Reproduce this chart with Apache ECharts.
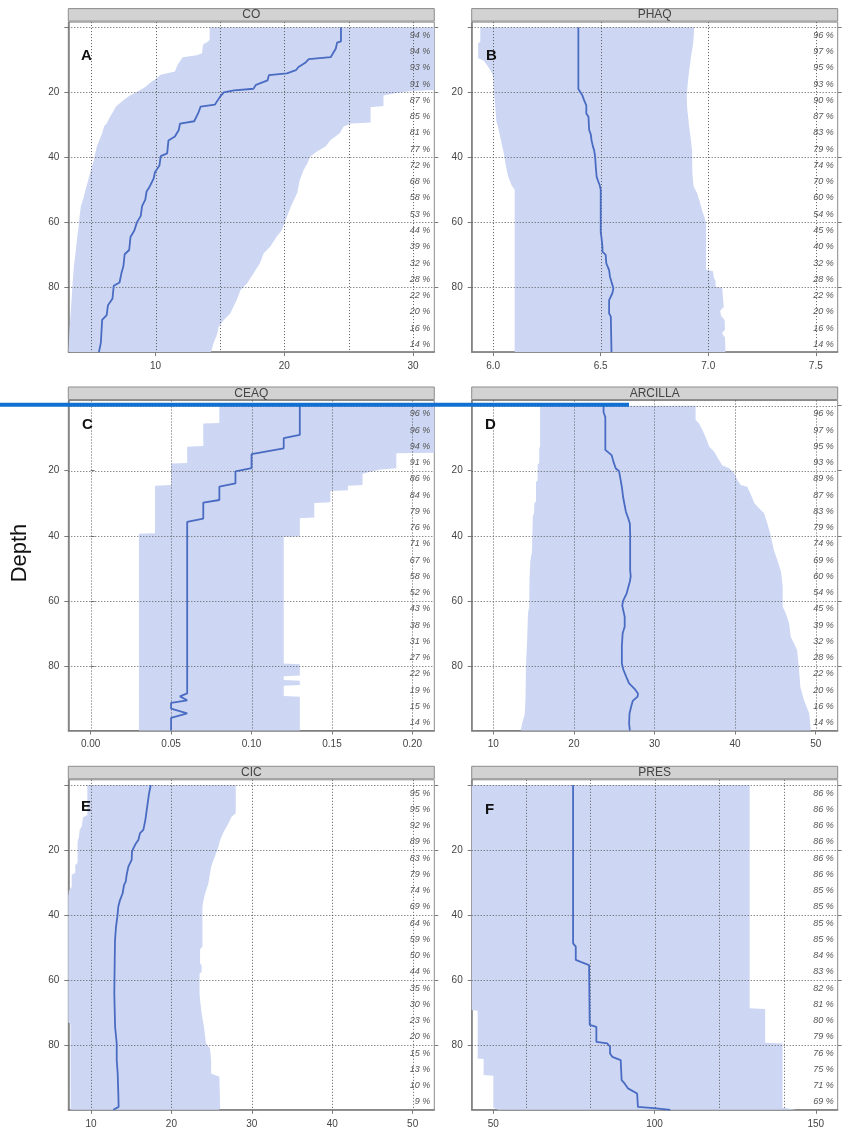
<!DOCTYPE html>
<html><head><meta charset="utf-8">
<script src="https://cdn.jsdelivr.net/npm/echarts@6/dist/echarts.min.js"></script>
<style>html,body{margin:0;padding:0;background:#fff}#c{width:842px;height:1135px}</style>
</head><body><div id="c"></div>
<script>
const FONT = '"Liberation Sans", Arial, sans-serif';

// ---------- data (value, depth) ----------
const coLower = [[14.2,0],[14.2,3.9],[14.0,4.6],[13.7,5.2],[13.6,8.0],[13.2,8.6],[12.1,9.2],[11.7,11.6],[11.5,13.6],[10.4,14.6],[10.1,15.6],[9.6,17.0],[9.2,18.4],[8.8,19.3],[8.4,20.2],[8.0,21.0],[7.5,22.4],[6.9,24.4],[6.7,26.0],[6.4,28.0],[6.2,29.6],[6.0,30.4],[5.85,32.6],[5.6,35.0],[5.44,36.7],[5.3,39.0],[5.2,41.0],[5.05,43.0],[4.9,45.0],[4.7,48.0],[4.55,50.0],[4.4,52.5],[4.2,55.0],[4.1,58.0],[4.02,61.3],[3.9,65.0],[3.78,69.5],[3.65,73.6],[3.52,80.8],[3.4,88.0],[3.3,94.0],[3.24,99.9]];
const coUpper = [[31.65,0],[31.65,19.3],[29.8,19.6],[28.6,20.3],[27.7,21.0],[27.7,24.2],[26.7,24.6],[26.7,29.3],[25.2,29.6],[24.6,30.5],[24.3,32.6],[23.6,34.7],[23.2,36.7],[22.5,38.3],[22.0,39.8],[21.8,41.8],[21.5,43.9],[21.2,47.0],[21.0,51.0],[20.5,55.2],[20.1,59.3],[19.8,62.4],[19.4,64.4],[18.9,67.5],[18.4,69.5],[18.1,72.6],[17.6,75.7],[17.1,78.8],[16.6,80.8],[16.3,83.9],[15.8,88.0],[15.3,90.0],[14.9,92.1],[14.8,94.2],[14.5,97.2],[14.3,99.9]];
const coMedian = [[24.4,0],[24.4,4.3],[24.1,4.7],[24.0,6.5],[23.6,9.2],[21.9,9.8],[21.6,11.0],[21.1,12.2],[20.9,13.2],[20.2,14.2],[18.8,14.7],[18.7,16.3],[18.4,16.8],[17.8,17.7],[17.6,18.9],[16.1,19.4],[15.3,20.0],[15.0,21.4],[14.6,23.8],[13.5,24.4],[13.3,26.5],[13.0,28.9],[11.9,29.6],[11.8,31.6],[11.5,33.6],[11.0,34.8],[10.9,38.8],[10.4,39.6],[10.3,42.5],[9.95,44.6],[9.85,46.5],[9.5,49.3],[9.3,50.5],[9.2,53.0],[8.95,55.0],[8.85,58.0],[8.55,60.0],[8.35,62.5],[8.05,64.5],[7.95,68.5],[7.6,69.8],[7.5,73.5],[7.35,75.6],[7.2,78.5],[6.75,79.5],[6.65,83.5],[6.3,85.5],[6.2,88.5],[5.85,90.0],[5.75,97.0],[5.6,99.9]];
const coPct = [94,94,93,91,87,85,81,77,72,68,58,53,44,39,32,28,22,20,16,14];

const phLower = [[5.94,0],[5.94,4.4],[5.93,5.0],[5.93,9.5],[5.955,10.2],[5.975,12.0],[5.99,13.6],[6.0,15.0],[6.004,20.0],[6.01,25.0],[6.015,29.0],[6.022,30.5],[6.03,33.0],[6.04,36.0],[6.05,39.0],[6.06,43.0],[6.07,46.0],[6.085,48.5],[6.1,50.0],[6.1,99.9]];
const phUpper = [[6.935,0],[6.93,5.0],[6.92,9.0],[6.912,13.0],[6.905,17.0],[6.9,21.0],[6.902,25.0],[6.908,28.5],[6.912,31.0],[6.918,34.0],[6.925,38.0],[6.926,45.0],[6.932,49.0],[6.948,51.0],[6.962,54.0],[6.972,56.5],[6.983,58.5],[6.99,60.5],[6.99,74.5],[7.022,75.0],[7.026,77.0],[7.034,78.0],[7.034,79.7],[7.065,80.2],[7.072,86.0],[7.055,87.2],[7.06,88.8],[7.076,90.0],[7.078,93.0],[7.064,94.0],[7.078,95.5],[7.08,99.9]];
const phMedian = [[6.396,0],[6.396,19.0],[6.402,19.5],[6.415,21.0],[6.423,22.5],[6.433,24.0],[6.433,26.5],[6.443,27.5],[6.446,31.5],[6.454,33.0],[6.457,34.7],[6.464,36.7],[6.469,37.7],[6.474,39.8],[6.477,42.9],[6.481,46.0],[6.489,47.5],[6.495,48.5],[6.5,50.0],[6.5,63.0],[6.503,64.4],[6.508,67.5],[6.508,69.0],[6.523,70.0],[6.526,72.6],[6.539,74.7],[6.543,76.7],[6.55,78.3],[6.559,80.3],[6.554,81.8],[6.539,83.9],[6.539,88.0],[6.547,89.0],[6.55,99.9]];
const phPct = [96,97,95,93,90,87,83,79,74,70,60,54,45,40,32,28,22,20,16,14];

const ceLower = [[0.08,0],[0.08,5.3],[0.07,5.5],[0.07,12.4],[0.06,12.6],[0.06,17.6],[0.05,17.8],[0.05,24.4],[0.04,24.6],[0.04,39.2],[0.03,39.4],[0.03,99.9]];
const ceUpper = [[0.2136,0],[0.2136,14.5],[0.19,14.6],[0.19,19.2],[0.18,19.6],[0.17,20.8],[0.169,21.0],[0.169,24.4],[0.16,24.6],[0.16,26.0],[0.149,26.2],[0.149,29.7],[0.139,29.9],[0.139,34.4],[0.13,34.6],[0.13,40.2],[0.12,40.4],[0.12,79.3],[0.13,79.5],[0.13,83.0],[0.12,83.2],[0.12,84.4],[0.13,84.6],[0.13,85.9],[0.12,86.1],[0.12,89.3],[0.13,89.5],[0.13,99.9]];
const ceMedian = [[0.13,0],[0.13,9.0],[0.12,10.0],[0.12,13.1],[0.10,14.9],[0.10,19.2],[0.09,20.2],[0.09,23.9],[0.08,24.9],[0.08,29.0],[0.07,29.8],[0.07,34.7],[0.06,35.7],[0.06,88.5],[0.0555,89.4],[0.06,90.6],[0.05,91.4],[0.05,93.2],[0.06,94.6],[0.05,96.0],[0.05,99.9]];
const cePct = [96,96,94,91,86,84,79,76,71,67,58,52,43,38,31,27,22,19,15,14];

const arLower = [[15.8,0],[15.8,12.6],[15.7,13.0],[15.7,17.7],[15.5,18.0],[15.5,23.0],[15.3,23.5],[15.3,29.5],[15.1,30.0],[15.05,33.0],[14.9,34.0],[14.8,45.0],[14.6,47.5],[14.5,53.0],[14.45,61.8],[14.3,64.0],[14.2,72.0],[14.05,80.0],[14.0,90.0],[13.9,95.0],[13.6,97.5],[13.4,99.9]];
const arUpper = [[35.1,0],[35.1,4.4],[35.5,5.4],[35.95,7.5],[36.4,10.0],[36.8,12.6],[37.4,14.2],[38.0,16.7],[38.4,18.3],[39.3,19.3],[39.9,20.8],[40.3,22.9],[40.7,24.4],[41.5,24.9],[41.9,27.0],[42.4,30.0],[43.0,31.6],[43.6,33.1],[44.0,36.2],[44.4,39.8],[44.8,44.4],[45.25,47.5],[45.7,51.1],[45.9,55.7],[45.9,61.8],[46.3,63.9],[46.7,67.0],[46.9,71.1],[47.3,73.1],[47.7,75.2],[47.9,80.3],[48.1,86.5],[48.55,90.6],[49.2,94.7],[49.4,99.9]];
const arMedian = [[23.68,0],[23.68,2.0],[23.9,3.5],[23.9,13.6],[24.2,14.2],[24.7,15.3],[24.9,17.2],[25.2,19.3],[25.6,20.1],[25.8,22.9],[25.95,25.0],[26.1,28.0],[26.25,30.0],[26.45,32.6],[26.75,34.7],[26.94,36.2],[26.98,39.3],[26.98,50.6],[27.05,52.5],[26.95,54.0],[26.55,57.7],[26.1,60.0],[26.0,61.5],[26.3,64.9],[26.3,68.0],[26.05,70.0],[25.95,74.0],[25.95,79.3],[26.15,81.3],[26.5,83.4],[26.85,85.4],[27.5,87.0],[27.95,88.5],[27.9,89.5],[27.3,90.8],[27.1,92.6],[26.9,94.7],[26.85,97.7],[26.94,99.9]];
const arPct = [96,97,95,93,89,87,83,79,74,69,60,54,45,39,32,28,22,20,16,14];

const cicLower = [[9.55,0],[9.55,9.2],[9.0,10.0],[8.85,12.8],[8.6,13.8],[8.5,16.0],[8.33,17.5],[8.33,24.0],[8.05,24.6],[8.05,27.0],[7.6,27.7],[7.6,31.3],[7.26,32.5],[7.18,34.4],[7.18,73.0],[7.45,73.5],[7.47,99.9]];
const cicUpper = [[28.0,0],[28.0,8.7],[27.5,9.7],[27.1,11.8],[26.5,14.4],[26.06,16.9],[25.85,19.0],[25.4,22.0],[24.95,25.1],[24.8,27.2],[24.6,30.3],[24.2,33.3],[24.0,35.4],[23.86,37.4],[23.86,49.7],[23.57,50.5],[23.57,54.9],[23.76,55.5],[23.76,57.5],[23.5,58.0],[23.5,64.1],[23.57,66.2],[23.76,70.3],[24.05,74.4],[24.3,79.5],[24.8,81.0],[24.94,84.6],[24.94,88.7],[25.97,89.7],[26.06,99.5],[25.9,99.9]];
const cicMedian = [[17.43,0],[17.22,2.6],[16.93,7.7],[16.76,10.8],[16.51,13.8],[16.1,14.8],[15.89,16.9],[15.6,17.9],[15.27,19.5],[15.1,20.5],[15.06,23.0],[14.65,25.1],[14.44,27.6],[14.32,29.7],[14.11,30.7],[13.94,33.3],[13.61,35.4],[13.4,37.4],[13.28,40.5],[13.11,43.6],[12.99,47.7],[12.95,53.8],[12.9,64.1],[13.0,74.4],[13.2,79.5],[13.2,84.6],[13.32,88.7],[13.4,94.9],[13.44,99.0],[12.78,99.9]];
const cicPct = [95,95,92,89,83,79,74,69,64,59,50,44,35,30,23,20,15,13,10,9];

const presLower = [[43.3,0],[43.3,69.2],[45.15,69.4],[45.15,84.1],[47.0,84.3],[47.0,89.2],[50.0,89.4],[50.0,99.3],[51.5,99.9]];
const presUpper = [[129.5,0],[129.5,68.7],[134.3,68.9],[134.3,79.3],[139.7,79.5],[139.7,99.3],[144.0,99.9]];
const presMedian = [[74.74,0],[74.74,48.7],[75.57,49.7],[75.57,53.8],[77.1,54.4],[79.7,55.4],[79.9,73.8],[81.96,74.4],[81.96,79.0],[85.36,79.5],[86.2,80.5],[86.2,82.6],[86.9,83.6],[89.5,84.6],[89.8,90.8],[90.7,91.8],[91.75,93.3],[94.6,94.9],[94.85,99.0],[99.8,99.4],[104.9,99.9]];
const presPct = [86,86,86,86,86,86,85,85,85,85,84,83,82,81,80,79,76,75,71,69];

// tick values
const pctDepth = [2.5,7.5,12.5,17.5,22.5,27.5,32.5,37.5,42.5,47.5,52.5,57.5,62.5,67.5,72.5,77.5,82.5,87.5,92.5,97.5];
const depthGrid = [0,20,40,60,80];
const depthLabels = [20,40,60,80];
const coXLabels = [10,20,30], coXGrid = [5,10,15,20,25,30];
const phXLabels = [6.0,6.5,7.0,7.5], phXGrid = [6.0,6.5,7.0,7.5];
const ceXLabels = [0,0.05,0.10,0.15,0.20], ceXGrid = [0,0.05,0.10,0.15,0.20];
const arXLabels = [10,20,30,40,50], arXGrid = [10,20,30,40,50];
const cicXLabels = [10,20,30,40,50], cicXGrid = [10,20,30,40,50];
const presXLabels = [50,100,150], presXGrid = [60,80,100,120,140];

const panels = [
  {title:'CO', letter:'A', lower:coLower, upper:coUpper, median:coMedian, pct:coPct, xMin:3.22, xMax:31.65, xLabels:coXLabels, xGrid:coXGrid, dec:0},
  {title:'PHAQ', letter:'B', lower:phLower, upper:phUpper, median:phMedian, pct:phPct, xMin:5.9, xMax:7.602, xLabels:phXLabels, xGrid:phXGrid, dec:1},
  {title:'CEAQ', letter:'C', lower:ceLower, upper:ceUpper, median:ceMedian, pct:cePct, xMin:-0.0139, xMax:0.2136, xLabels:ceXLabels, xGrid:ceXGrid, dec:2},
  {title:'ARCILLA', letter:'D', lower:arLower, upper:arUpper, median:arMedian, pct:arPct, xMin:7.32, xMax:52.73, xLabels:arXLabels, xGrid:arXGrid, dec:0},
  {title:'CIC', letter:'E', lower:cicLower, upper:cicUpper, median:cicMedian, pct:cicPct, xMin:7.18, xMax:52.69, xLabels:cicXLabels, xGrid:cicXGrid, dec:0},
  {title:'PRES', letter:'F', lower:presLower, upper:presUpper, median:presMedian, pct:presPct, xMin:43.3, xMax:156.8, xLabels:presXLabels, xGrid:presXGrid, dec:0}
];

// layout (pixels)
const layout = [
  {left:68.3, top:22.1, lx:12.7, ly:33.4},
  {left:471.7, top:22.1, lx:14.3, ly:33.4},
  {left:68.3, top:400.5, lx:13.7, ly:24.2},
  {left:471.7, top:400.5, lx:13.3, ly:24.2},
  {left:68.3, top:779.8, lx:12.7, ly:27.5},
  {left:471.7, top:779.8, lx:13.3, ly:29.7}
];
const W = 366, H = 330, Y_MIN = -1.6, Y_MAX = 99.9;
const BAND = '#cdd7f4', LINE = '#4a6bc2', GRIDC = '#5a5a5a', AXC = '#7c7c7c', TXT = '#444';

const grids = [], xAxes = [], yAxes = [], series = [], graphics = [];

panels.forEach((p, i) => {
  const L = layout[i];
  grids.push({left:L.left, top:L.top, width:W, height:H, show:true, borderColor:'#8a8a8a', borderWidth:1, containLabel:false});
  xAxes.push({
    gridIndex:i, type:'value', position:'bottom', min:p.xMin, max:p.xMax,
    axisLine:{show:true, onZero:false, lineStyle:{color:AXC, width:1.5}},
    axisTick:{show:true, length:4, customValues:p.xLabels, lineStyle:{color:AXC}},
    axisLabel:{customValues:p.xLabels, formatter:(v)=>Number(v).toFixed(p.dec), color:TXT, fontSize:10, fontFamily:FONT, margin:9},
    splitLine:{show:false}
  });
  yAxes.push({
    gridIndex:i, type:'value', inverse:true, min:Y_MIN, max:Y_MAX, position:'left',
    axisLine:{show:true, onZero:false, lineStyle:{color:AXC, width:1.5}},
    axisTick:{show:true, length:4, customValues:depthGrid, lineStyle:{color:AXC}},
    axisLabel:{customValues:depthLabels, color:TXT, fontSize:10, fontFamily:FONT, margin:9},
    splitLine:{show:false}
  });
  yAxes.push({
    gridIndex:i, type:'value', inverse:true, min:Y_MIN, max:Y_MAX, position:'right',
    axisLine:{show:false},
    axisTick:{show:true, length:4, customValues:depthGrid, lineStyle:{color:AXC}},
    axisLabel:{show:false},
    splitLine:{show:false}
  });
  const yi = 2*i;
  // band polygon
  series.push({
    type:'custom', xAxisIndex:i, yAxisIndex:yi, silent:true, z:1, data:[p.lower[0]],
    renderItem:(params, api) => {
      const pts = p.lower.map(d => api.coord(d)).concat(p.upper.slice().reverse().map(d => api.coord(d)));
      return {type:'polygon', shape:{points:pts}, style:{fill:BAND}};
    }
  });
  // dotted grid lines
  series.push({
    type:'custom', xAxisIndex:i, yAxisIndex:yi, silent:true, z:2, data:[[p.xMin, 0]],
    renderItem:(params, api) => {
      const cs = params.coordSys;
      const ch = [];
      p.xGrid.forEach(v => {
        const x = Math.round(api.coord([v, 0])[0]) + 0.5;
        ch.push({type:'line', shape:{x1:x, y1:cs.y, x2:x, y2:cs.y+cs.height}, style:{stroke:GRIDC, lineWidth:1, lineDash:[1,2]}});
      });
      depthGrid.forEach(d => {
        const y = Math.round(api.coord([p.xMin, d])[1]) + 0.5;
        ch.push({type:'line', shape:{x1:cs.x, y1:y, x2:cs.x+cs.width, y2:y}, style:{stroke:GRIDC, lineWidth:1, lineDash:[1,2]}});
      });
      return {type:'group', children:ch};
    }
  });
  // median line
  series.push({
    type:'line', xAxisIndex:i, yAxisIndex:yi, data:p.median, showSymbol:false, symbol:'none',
    lineStyle:{color:LINE, width:1.8}, z:5, silent:true
  });
  // percent labels
  series.push({
    type:'custom', xAxisIndex:i, yAxisIndex:yi, silent:true, z:6,
    data:pctDepth.map((d, k) => [d, p.pct[k]]),
    renderItem:(params, api) => {
      const cs = params.coordSys;
      const y = api.coord([p.xMin, api.value(0)])[1];
      return {type:'text', style:{text: api.value(1) + ' %', x: cs.x + cs.width - 4, y: y, align:'right', verticalAlign:'middle', font:'italic 9px ' + FONT, fill:'#555'}};
    }
  });
  // header strip
  graphics.push({type:'rect', shape:{x:L.left, y:L.top-13.5, width:W, height:12.5}, style:{fill:'#d2d2d2', stroke:'#8c8c8c', lineWidth:1}, z:10});
  graphics.push({type:'text', x:L.left + W/2, y:L.top-7.2, style:{text:p.title, align:'center', verticalAlign:'middle', font:'12px ' + FONT, fill:'#444'}, z:11});
  // panel letter
  graphics.push({type:'text', x:L.left + L.lx, y:L.top + L.ly, style:{text:p.letter, align:'left', verticalAlign:'middle', font:'bold 15px ' + FONT, fill:'#111'}, z:11});
});

graphics.push({type:'text', x:20, y:553, rotation:Math.PI/2, style:{text:'Depth', align:'center', verticalAlign:'middle', font:'22px ' + FONT, fill:'#111'}, z:11});
graphics.push({type:'rect', shape:{x:0, y:402.7, width:629, height:4}, style:{fill:'#1170d1'}, z:20});

const chart = echarts.init(document.getElementById('c'), null, {renderer:'canvas'});
chart.setOption({
  animation:false,
  backgroundColor:'#ffffff',
  grid:grids, xAxis:xAxes, yAxis:yAxes, series:series, graphic:graphics
});
</script></body></html>
